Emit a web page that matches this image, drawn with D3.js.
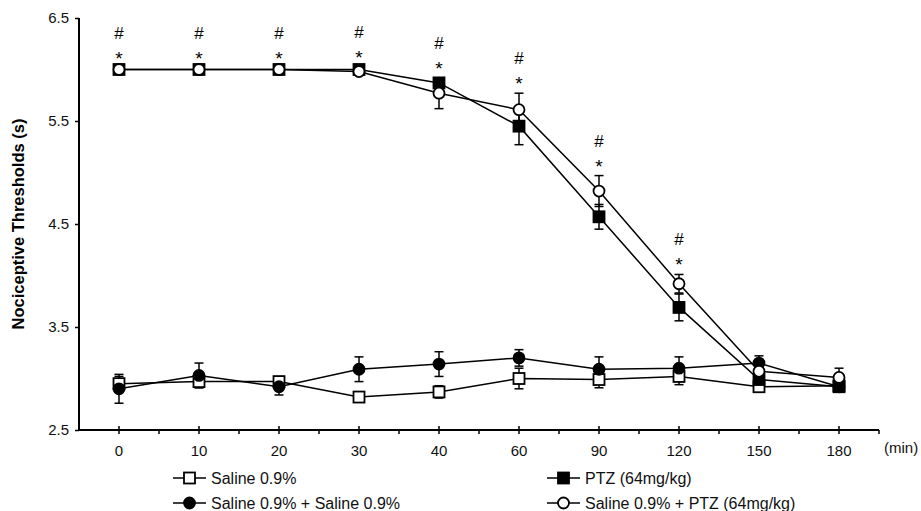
<!DOCTYPE html>
<html>
<head>
<meta charset="utf-8">
<script src="https://cdn.jsdelivr.net/npm/d3@7"></script>
<style>
  body { margin: 0; background: #fff; }
  svg { font-family: "Liberation Sans", Arial, sans-serif; }
</style>
</head>
<body>
<div id="chart"></div>
<script>
// time points (min)
const times = ["0", "10", "20", "30", "40", "60", "90", "120", "150", "180"];
const yTicks = [2.5, 3.5, 4.5, 5.5, 6.5];

const salineVals = [2.95, 2.97, 2.97, 2.82, 2.87, 3.00, 2.99, 3.02, 2.92, 2.93];
const salineErr  = [0.07, 0.06, 0.04, 0.05, 0.06, 0.10, 0.08, 0.08, 0.04, 0.05];

const salSalVals = [2.90, 3.03, 2.92, 3.09, 3.14, 3.20, 3.09, 3.10, 3.15, 2.92];
const salSalErr  = [0.14, 0.12, 0.08, 0.12, 0.12, 0.08, 0.12, 0.11, 0.07, 0.04];

const ptzVals = [6.00, 6.00, 6.00, 6.00, 5.87, 5.45, 4.57, 3.69, 2.99, 2.92];
const ptzErr  = [0.01, 0.01, 0.01, 0.02, 0.03, 0.18, 0.12, 0.13, 0.06, 0.05];

const salPtzVals = [6.00, 6.00, 6.00, 5.98, 5.77, 5.61, 4.82, 3.92, 3.07, 3.01];
const salPtzErr  = [0.01, 0.01, 0.01, 0.02, 0.15, 0.16, 0.15, 0.09, 0.08, 0.09];

// significance marks shown at these time points
const sigTimes = ["0", "10", "20", "30", "40", "60", "90", "120"];

const series = [
    { name: "Saline 0.9%", vals: salineVals, err: salineErr, shape: "square", fill: "#fff" },
    { name: "Saline 0.9% + Saline 0.9%", vals: salSalVals, err: salSalErr, shape: "circle", fill: "#000" },
    { name: "PTZ (64mg/kg)", vals: ptzVals, err: ptzErr, shape: "square", fill: "#000" },
    { name: "Saline 0.9% + PTZ (64mg/kg)", vals: salPtzVals, err: salPtzErr, shape: "circle", fill: "#fff" }
];

const width = 921, height = 511;
const svg = d3.select("#chart").append("svg")
    .attr("width", width)
    .attr("height", height);

const x = d3.scalePoint()
    .domain(times)
    .range([79, 879])
    .padding(0.5);

const y = d3.scaleLinear()
    .domain([2.5, 6.5])
    .range([430, 18]);

// y axis
const yAxis = svg.append("g")
    .attr("transform", "translate(79,0)")
    .call(d3.axisLeft(y).tickValues(yTicks).tickFormat(d3.format(".1f")).tickSize(4).tickPadding(6));
yAxis.select(".domain").attr("stroke-width", 2).attr("d", `M0,${y(6.5)}V${y(2.5)}`);
yAxis.selectAll(".tick line").attr("stroke-width", 1.5);
yAxis.selectAll(".tick text").attr("font-size", 15).attr("font-family", "Liberation Sans, Arial, sans-serif").attr("fill", "#111");

// x axis (custom ticks: centre ticks cross the line, boundary ticks hang below)
const xAxis = svg.append("g");
const step = x.step();
xAxis.append("line")
    .attr("x1", 79).attr("x2", x(times[times.length - 1]) + step / 2)
    .attr("y1", y(2.5)).attr("y2", y(2.5))
    .attr("stroke", "#000").attr("stroke-width", 2);
xAxis.selectAll(".major")
    .data(times)
    .enter().append("line")
    .attr("x1", d => x(d)).attr("x2", d => x(d))
    .attr("y1", y(2.5) - 4).attr("y2", y(2.5) + 4)
    .attr("stroke", "#000").attr("stroke-width", 1.5);
xAxis.selectAll(".minor")
    .data(times)
    .enter().append("line")
    .attr("x1", d => x(d) + step / 2).attr("x2", d => x(d) + step / 2)
    .attr("y1", y(2.5)).attr("y2", y(2.5) + 4)
    .attr("stroke", "#000").attr("stroke-width", 1.5);
xAxis.selectAll(".lbl")
    .data(times)
    .enter().append("text")
    .attr("x", d => x(d))
    .attr("y", y(2.5) + 26)
    .attr("text-anchor", "middle")
    .attr("font-size", 15)
    .attr("fill", "#111")
    .text(d => d);
svg.append("text")
    .attr("x", 884).attr("y", y(2.5) + 23)
    .attr("font-size", 15)
    .attr("fill", "#111")
    .text("(min)");

// y label
svg.append("text")
    .attr("transform", `translate(24,${(y(6.5) + y(2.5)) / 2}) rotate(-90)`)
    .attr("text-anchor", "middle")
    .attr("font-size", 16.5)
    .attr("font-weight", "bold")
    .text("Nociceptive Thresholds (s)");

const line = d3.line()
    .x((d, i) => x(times[i]))
    .y(d => y(d));

function drawMarker(g, shape, fill, cx, cy) {
    if (shape === "square") {
        g.append("rect")
            .attr("x", cx - 5.5).attr("y", cy - 5.5)
            .attr("width", 11).attr("height", 11)
            .attr("fill", fill).attr("stroke", "#000").attr("stroke-width", 1.8);
    } else {
        g.append("circle")
            .attr("cx", cx).attr("cy", cy).attr("r", 5.5)
            .attr("fill", fill).attr("stroke", "#000").attr("stroke-width", 1.8);
    }
}

// error bars
series.forEach(s => {
    const g = svg.append("g");
    s.vals.forEach((v, i) => {
        const cx = x(times[i]);
        const top = y(v + s.err[i]), bot = y(v - s.err[i]);
        g.append("line").attr("x1", cx).attr("x2", cx).attr("y1", top).attr("y2", bot)
            .attr("stroke", "#000").attr("stroke-width", 1.5);
        [top, bot].forEach(yy => {
            g.append("line").attr("x1", cx - 4.5).attr("x2", cx + 4.5).attr("y1", yy).attr("y2", yy)
                .attr("stroke", "#000").attr("stroke-width", 1.5);
        });
    });
});

// lines
series.forEach(s => {
    svg.append("path")
        .datum(s.vals)
        .attr("fill", "none")
        .attr("stroke", "#000")
        .attr("stroke-width", 1.5)
        .attr("d", line);
});

// markers
series.forEach(s => {
    const g = svg.append("g");
    s.vals.forEach((v, i) => drawMarker(g, s.shape, s.fill, x(times[i]), y(v)));
});

// significance marks
sigTimes.forEach(t => {
    const i = times.indexOf(t);
    const topVal = d3.max(series, s => s.vals[i] + s.err[i]);
    const ty = y(topVal);
    svg.append("text")
        .attr("x", x(t)).attr("y", ty - 3)
        .attr("text-anchor", "middle")
        .attr("font-size", 19)
        .text("*");
    svg.append("text")
        .attr("x", x(t)).attr("y", ty - 29)
        .attr("text-anchor", "middle")
        .attr("font-size", 17)
        .text("#");
});

// legend
const legendPos = [
    { x: 173, y: 478 },
    { x: 173, y: 503 },
    { x: 547, y: 478 },
    { x: 547, y: 503 }
];
series.forEach((s, i) => {
    const p = legendPos[i];
    const g = svg.append("g");
    g.append("line").attr("x1", p.x).attr("x2", p.x + 33).attr("y1", p.y).attr("y2", p.y)
        .attr("stroke", "#000").attr("stroke-width", 1.5);
    drawMarker(g, s.shape, s.fill, p.x + 16.5, p.y);
    g.append("text")
        .attr("x", p.x + 38).attr("y", p.y + 5.5)
        .attr("font-size", 16)
        .attr("fill", "#111")
        .text(s.name);
});
</script>
</body>
</html>
